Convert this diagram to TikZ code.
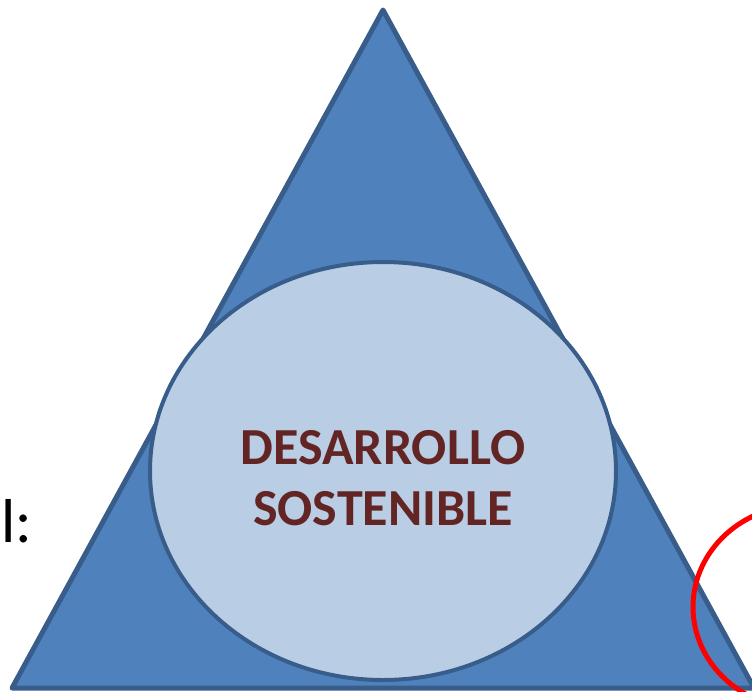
\documentclass[tikz,border=0pt]{standalone}
\usepackage{fontspec}
\setmainfont{Carlito}
\usetikzlibrary{shapes.geometric}
\definecolor{triblue}{HTML}{4F81BD}
\definecolor{edgeblue}{HTML}{385D8A}
\definecolor{ovalblue}{HTML}{B9CDE5}
\definecolor{textred}{HTML}{632523}

\begin{document}
\begin{tikzpicture}[x=1pt,y=-1pt]
    \useasboundingbox (0,0) rectangle (752,691);
    \coordinate (top) at (383,10);
    \coordinate (left) at (12,688);
    \coordinate (right) at (754,688);

    \draw[fill=triblue,draw=edgeblue,line width=5pt,line join=round] (top) -- (left) -- (right) -- cycle;

    \node[ellipse,fill=ovalblue,draw=edgeblue,line width=4pt,minimum width=466pt,minimum height=418pt] at (383,471) (ds) {};
    \node[align=center,text=textred,font=\bfseries\fontsize{52}{61}\selectfont] at ([yshift=-7pt]ds.center) (dstext)
          {DESARROLLO\\SOSTENIBLE};

    \node[anchor=base west,inner sep=1pt,font=\fontsize{62}{62}\selectfont] at (0,542) (lbl) {l:};

    \begin{scope}
        \clip (0,0) rectangle (752,691);
        \draw[red,line width=5pt] (803,607) ellipse [x radius=110, y radius=102];
    \end{scope}
\end{tikzpicture}
\end{document}
